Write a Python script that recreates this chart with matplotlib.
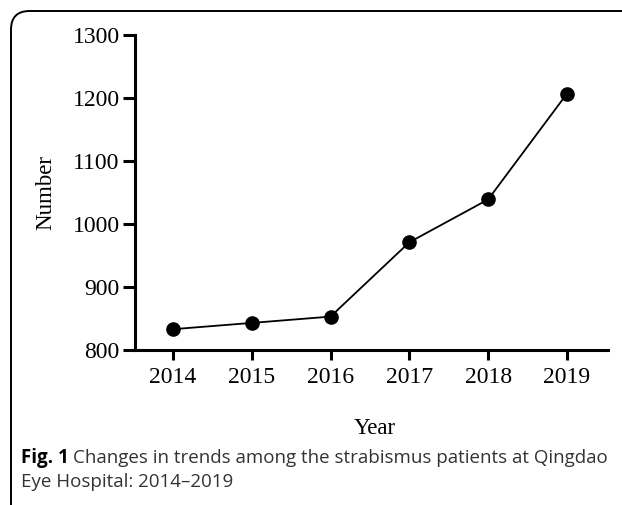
import matplotlib.pyplot as plt
from matplotlib.patches import FancyBboxPatch

# yearly number of strabismus patients
years = [2014, 2015, 2016, 2017, 2018, 2019]
patients = [833, 843, 853, 971, 1039, 1207]
y_ticks = [800, 900, 1000, 1100, 1200, 1300]

W, H = 622, 505
fig = plt.figure(figsize=(W / 100, H / 100), dpi=100)
serif = 'Liberation Serif'

ax = fig.add_axes([135 / W, 1 - 350 / H, (608 - 135) / W, (350 - 35) / H])
ax.plot(years, patients, color='black', lw=1.3, marker='o', ms=9.5, mfc='black', mec='black')
ax.set_xlim(2013.52, 2019.52)
ax.set_ylim(800, 1300)
ax.set_xticks(years)
ax.set_yticks(y_ticks)
for s in ['top', 'right']:
    ax.spines[s].set_visible(False)
for s in ['left', 'bottom']:
    ax.spines[s].set_linewidth(2.2)
ax.tick_params(axis='x', width=2.2, length=7.5, labelsize=17, pad=5)
ax.tick_params(axis='y', width=2.2, length=8.5, labelsize=17, pad=2.5)
for lab in ax.get_xticklabels() + ax.get_yticklabels():
    lab.set_fontfamily(serif)

fig.text(46 / W, 1 - 192 / H, 'Number', rotation=90, ha='center', va='center',
         fontsize=16.5, fontfamily=serif)
fig.text(375 / W, 1 - 428 / H, 'Year', ha='center', va='center',
         fontsize=16.5, fontfamily=serif)

# caption: bold "Fig. 1" followed by regular text
cap_size = 13.5
cap_color = '#333333'
t = fig.text(21 / W, 1 - 458 / H, 'Fig. 1', ha='left', va='center', fontsize=cap_size,
             fontfamily='Open Sans', fontweight='bold', color='black')
fig.canvas.draw()
x_end = t.get_window_extent().x1
fig.text((x_end + 4) / W, 1 - 458 / H,
         'Changes in trends among the strabismus patients at Qingdao',
         ha='left', va='center', fontsize=cap_size, fontfamily='Open Sans', color=cap_color)
fig.text(21 / W, 1 - 482 / H, 'Eye Hospital: 2014\u20132019',
         ha='left', va='center', fontsize=cap_size, fontfamily='Open Sans', color=cap_color)

# rounded border around the figure panel
box = FancyBboxPatch((11 / W, -0.2), 1.2, 1.2 - 11 / H, boxstyle='round,pad=0,rounding_size=0.03',
                     transform=fig.transFigure, fill=False, ec='black', lw=1.4,
                     mutation_aspect=W / H)
fig.patches.append(box)

fig.savefig('out.png', dpi=100)
